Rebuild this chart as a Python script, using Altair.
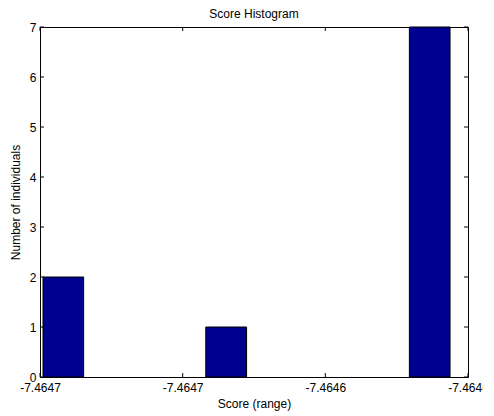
import json
import altair as alt
import pandas as pd

# ---- data ----
counts = [2, 0, 0, 0, 1, 0, 0, 0, 0, 7]
bin_left = [0.021, 0.306, 0.592, 0.877, 1.162, 1.448, 1.733, 2.018, 2.304, 2.589]
bin_right = [0.306, 0.592, 0.877, 1.162, 1.448, 1.733, 2.018, 2.304, 2.589, 2.874]
x_ticks = [0, 1, 2, 3]
x_tick_labels = ["-7.4647", "-7.4647", "-7.4646", "-7.4646"]
y_ticks = [0, 1, 2, 3, 4, 5, 6, 7]

W, H = 428, 350
FONT = "Liberation Sans"

bars_df = pd.DataFrame({"left": bin_left, "right": bin_right, "count": counts})
xt_df = pd.DataFrame({"v": x_ticks})
yt_df = pd.DataFrame({"v": y_ticks})

xscale = alt.Scale(domain=[0, 3], nice=False, zero=False)
yscale = alt.Scale(domain=[0, 7], nice=False)

label_expr = json.dumps(x_tick_labels) + "[datum.value]"

xaxis = alt.Axis(values=x_ticks, labelExpr=label_expr, ticks=False, domain=False,
                 grid=False, title="Score (range)", labelPadding=5, titlePadding=5,
                 labelFont=FONT, labelFontSize=12, labelColor="black",
                 titleFont=FONT, titleFontSize=12, titleFontWeight="normal",
                 titleColor="black", labelFlush=False, labelOverlap=False)
yaxis = alt.Axis(values=y_ticks, ticks=False, domain=False, grid=False,
                 title="Number of individuals", labelPadding=4, titlePadding=7,
                 labelFont=FONT, labelFontSize=12, labelColor="black",
                 titleFont=FONT, titleFontSize=12, titleFontWeight="normal",
                 titleColor="black", labelFlush=False, labelOverlap=False)

bars = alt.Chart(bars_df).transform_filter("datum.count > 0").mark_rect(
    color="#00008F", stroke="black", strokeWidth=1
).encode(
    x=alt.X("left:Q", scale=xscale, axis=xaxis),
    x2="right:Q",
    y=alt.Y("count:Q", scale=yscale, axis=yaxis),
    y2=alt.datum(0),
)

tick_len = 4
ytick_left = alt.Chart(yt_df).mark_rule(color="black", strokeWidth=1).encode(
    y=alt.Y("v:Q", scale=yscale, axis=yaxis), x=alt.value(0), x2=alt.value(tick_len))
ytick_right = alt.Chart(yt_df).mark_rule(color="black", strokeWidth=1).encode(
    y=alt.Y("v:Q", scale=yscale, axis=yaxis), x=alt.value(W - tick_len), x2=alt.value(W))
xtick_bottom = alt.Chart(xt_df).mark_rule(color="black", strokeWidth=1).encode(
    x=alt.X("v:Q", scale=xscale, axis=xaxis), y=alt.value(H - tick_len), y2=alt.value(H))
xtick_top = alt.Chart(xt_df).mark_rule(color="black", strokeWidth=1).encode(
    x=alt.X("v:Q", scale=xscale, axis=xaxis), y=alt.value(0), y2=alt.value(tick_len))

chart = alt.layer(bars, ytick_left, ytick_right, xtick_bottom, xtick_top).properties(
    width=W, height=H,
    title=alt.Title("Score Histogram", font=FONT, fontSize=12, fontWeight="normal",
                    color="black", frame="group", offset=0),
    autosize=alt.AutoSizeParams(type="none"),
    padding={"left": 32, "top": 19, "right": 15, "bottom": 39},
).configure(background="white").configure_view(stroke="black", strokeWidth=1)

chart.save("out.html", embed_options={"renderer": "svg", "actions": False})
